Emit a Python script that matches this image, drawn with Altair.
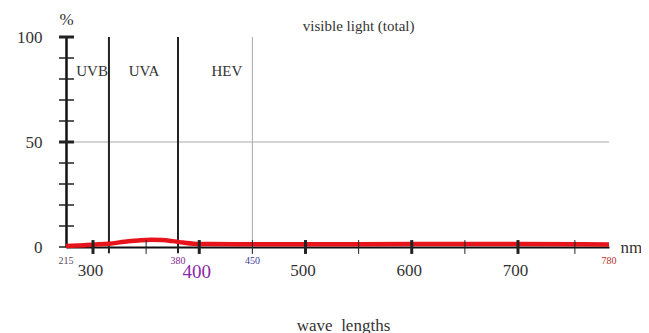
import altair as alt
import pandas as pd

# ---- data ----
wavelengths = [215, 250, 280, 300, 315, 330, 345, 355, 365, 375, 385, 395, 410, 450, 500, 600, 700, 780]
transmission = [0.5, 0.7, 0.9, 1.1, 1.6, 2.5, 3.2, 3.4, 3.3, 2.8, 2.1, 1.6, 1.4, 1.3, 1.3, 1.4, 1.4, 1.2]

major_x = [300, 400, 500, 600, 700]
minor_x = [350, 450, 550, 650, 750]
y_tick_values = [0, 10, 20, 30, 40, 50, 60, 70, 80, 90, 100]
y_label_values = [0, 50, 100]

band_edges = [315, 380, 450]
band_edge_colors = ["#222222", "#222222", "#aaaaaa"]
band_edge_widths = [2, 2, 1]

band_names = ["UVB", "UVA", "HEV"]
band_name_x = [297, 348, 426]

edge_labels = ["215", "380", "450", "780"]
edge_label_x = [215, 380, 450, 780]
edge_label_colors = ["#5b4a66", "#7d2c8f", "#3d3d9e", "#b5302e"]

FONT = "Liberation Serif"
TXT = "#333333"

# ---- scales & axes ----
xs = alt.Scale(domain=[215, 300, 700, 780], range=[0, 27, 452, 543], nice=False, zero=False)
ys = alt.Scale(domain=[0, 100], nice=False, zero=False)

x_axis = alt.Axis(
    values=major_x, ticks=False, grid=False, domainColor="#111111", domainWidth=2,
    labelFont=FONT,
    labelFontSize={"condition": {"test": "datum.value === 400", "value": 19}, "value": 17},
    labelColor={"condition": {"test": "datum.value === 400", "value": "#8b27a8"}, "value": TXT},
    labelPadding=15, labelOffset=-3, labelFlush=False,
    title="wave\u2002lengths", titleFont=FONT, titleFontSize=17, titleFontWeight="normal",
    titleColor=TXT, titleX=277, titleY=78, titleBaseline="middle",
)
y_axis = alt.Axis(
    values=y_label_values, ticks=False, grid=False, domainColor="#111111", domainWidth=2.5,
    labelFont=FONT, labelFontSize=17, labelColor=TXT, labelPadding=24, labelFlush=False,
    title="%", titleAngle=0, titleX=0, titleY=-18, titleFont=FONT, titleFontSize=17,
    titleFontWeight="normal", titleColor=TXT, titleAlign="center", titleBaseline="middle",
)

def X(field):
    return alt.X(field, type="quantitative", scale=xs, axis=x_axis)

def Y(field):
    return alt.Y(field, type="quantitative", scale=ys, axis=y_axis)

# ---- tables ----
curve = pd.DataFrame({"x": wavelengths, "y": transmission})
grid = pd.DataFrame({"x": [215], "x2": [780], "y": [50]})
edges = pd.DataFrame({"x": band_edges, "y": [-3] * 3, "y2": [100] * 3,
                      "c": band_edge_colors, "w": band_edge_widths})
yticks = pd.DataFrame({"x": [215] * len(y_tick_values), "y": y_tick_values,
                       "w": [3 if v in (50, 100) else 1.5 for v in y_tick_values]})
xticks = pd.DataFrame({"x": major_x + minor_x, "y": [-3.3] * 10, "y2": [3.3] * 10,
                       "w": [3] * 5 + [1] * 5})
small = pd.DataFrame({"x": edge_label_x, "y": [-6.8] * 4, "t": edge_labels, "c": edge_label_colors})
bands = pd.DataFrame({"x": band_name_x, "y": [83.6] * 3, "t": band_names})
vis = pd.DataFrame({"x": [550], "y": [105.2], "t": ["visible light (total)"]})
nm = pd.DataFrame({"x": [790], "y": [-0.5], "t": ["nm"]})

# ---- layers ----
grid_l = alt.Chart(grid).mark_rule(color="#aaaaaa", strokeWidth=1).encode(
    x=X("x"), x2="x2", y=Y("y"))
edges_l = alt.Chart(edges).mark_rule().encode(
    x=X("x"), y=Y("y"), y2="y2",
    color=alt.Color("c:N", scale=None), strokeWidth=alt.StrokeWidth("w:Q", scale=None))
ytick_l = alt.Chart(yticks).mark_rule(color="#222222").encode(
    y=Y("y"), x=alt.value(-7), x2=alt.value(8),
    strokeWidth=alt.StrokeWidth("w:Q", scale=None))
curve_l = alt.Chart(curve).mark_line(color="#e8141b", strokeWidth=4.5, interpolate="monotone").encode(
    x=X("x"), y=Y("y"))
xtick_l = alt.Chart(xticks).mark_rule(color="#222222").encode(
    x=X("x"), y=Y("y"), y2="y2", strokeWidth=alt.StrokeWidth("w:Q", scale=None))
small_l = alt.Chart(small).mark_text(font=FONT, fontSize=10, baseline="middle").encode(
    x=X("x"), y=Y("y"), text="t:N", color=alt.Color("c:N", scale=None))
bands_l = alt.Chart(bands).mark_text(font=FONT, fontSize=15, color=TXT, baseline="middle").encode(
    x=X("x"), y=Y("y"), text="t:N")
vis_l = alt.Chart(vis).mark_text(font=FONT, fontSize=15, color=TXT, baseline="middle").encode(
    x=X("x"), y=Y("y"), text="t:N")
nm_l = alt.Chart(nm).mark_text(font=FONT, fontSize=17, color=TXT, baseline="middle", align="left").encode(
    x=X("x"), y=Y("y"), text="t:N")

chart = alt.layer(
    grid_l, edges_l, ytick_l, curve_l, xtick_l, small_l, bands_l, vis_l, nm_l
).properties(
    width=543, height=210,
    autosize=alt.AutoSizeParams(type="none"),
    padding={"left": 58, "top": 29, "right": 32, "bottom": 86},
    background="white",
).configure_view(stroke=None)

chart.save("out.html", embed_options={"renderer": "svg", "actions": False})
